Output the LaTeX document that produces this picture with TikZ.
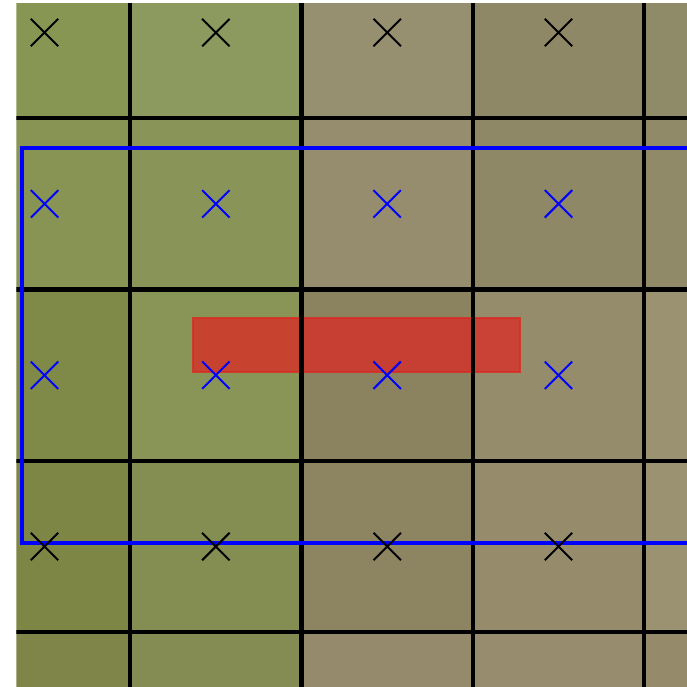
\documentclass[tikz,border=0pt]{standalone}
\usepackage{tikz}
\usetikzlibrary{calc}
% raster cell colours (row from the top, column from the left)
\definecolor{cellAa}{HTML}{889653}
\definecolor{cellAb}{HTML}{8D9A5F}
\definecolor{cellAc}{HTML}{979070}
\definecolor{cellAd}{HTML}{8E8866}
\definecolor{cellAe}{HTML}{8F8A68}
\definecolor{cellBa}{HTML}{879453}
\definecolor{cellBb}{HTML}{899558}
\definecolor{cellBc}{HTML}{958D6D}
\definecolor{cellBd}{HTML}{8E8866}
\definecolor{cellBe}{HTML}{908A68}
\definecolor{cellCa}{HTML}{808A48}
\definecolor{cellCb}{HTML}{899556}
\definecolor{cellCc}{HTML}{8B8260}
\definecolor{cellCd}{HTML}{958C6B}
\definecolor{cellCe}{HTML}{9A9270}
\definecolor{cellDa}{HTML}{7E8646}
\definecolor{cellDb}{HTML}{858E52}
\definecolor{cellDc}{HTML}{8D8462}
\definecolor{cellDd}{HTML}{968C6C}
\definecolor{cellDe}{HTML}{9A9270}
\definecolor{cellEa}{HTML}{7F8549}
\definecolor{cellEb}{HTML}{858C53}
\definecolor{cellEc}{HTML}{958A6B}
\definecolor{cellEd}{HTML}{978C6D}
\definecolor{cellEe}{HTML}{958B6B}
\definecolor{hitred}{HTML}{DC2823}

\begin{document}
\begin{tikzpicture}[
    x=2cm, y=2cm,
    gridline/.style={black, line width=1.5pt},
    window/.style={draw=blue, line width=1.4pt},
    hit/.style={draw=hitred, fill=hitred, fill opacity=0.75, draw opacity=0.8, line width=0.6pt},
    centre/.style={line width=0.65pt}
]
\useasboundingbox (0.24,0.68) rectangle (4.25,4.69);
\clip (0.335,0.68) rectangle (4.25,4.67);

% raster cells
\foreach \x/\y/\c in {0/4/cellAa, 1/4/cellAb, 2/4/cellAc, 3/4/cellAd, 4/4/cellAe,
                      0/3/cellBa, 1/3/cellBb, 2/3/cellBc, 3/3/cellBd, 4/3/cellBe,
                      0/2/cellCa, 1/2/cellCb, 2/2/cellCc, 3/2/cellCd, 4/2/cellCe,
                      0/1/cellDa, 1/1/cellDb, 2/1/cellDc, 3/1/cellDd, 4/1/cellDe,
                      0/0/cellEa, 1/0/cellEb, 2/0/cellEc, 3/0/cellEd, 4/0/cellEe}
    \fill[\c] (\x,\y) rectangle ++(1,1);

% highlighted strip
\coordinate (hitSW) at (1.367,2.518);
\coordinate (hitNE) at (3.274,2.833);
\draw[hit] (hitSW) rectangle (hitNE);

% cell borders
\foreach \k in {1,...,4} {
    \draw[gridline] (\k,0) -- (\k,5);
    \draw[gridline] (0,\k) -- (5,\k);
}

% search window
\coordinate (winSW) at (0.37,1.522);
\coordinate (winNE) at (4.6,3.825);
\draw[window] (winSW) rectangle (winNE);

% cell centres
\foreach \x in {0.5,1.5,2.5,3.5}
    \foreach \y/\col in {4.5/black, 3.5/blue, 2.5/blue, 1.5/black}
        \draw[centre, \col] (\x,\y) +(-0.08,-0.08) -- +(0.08,0.08)
                                    +(-0.08,0.08) -- +(0.08,-0.08);
\end{tikzpicture}
\end{document}
